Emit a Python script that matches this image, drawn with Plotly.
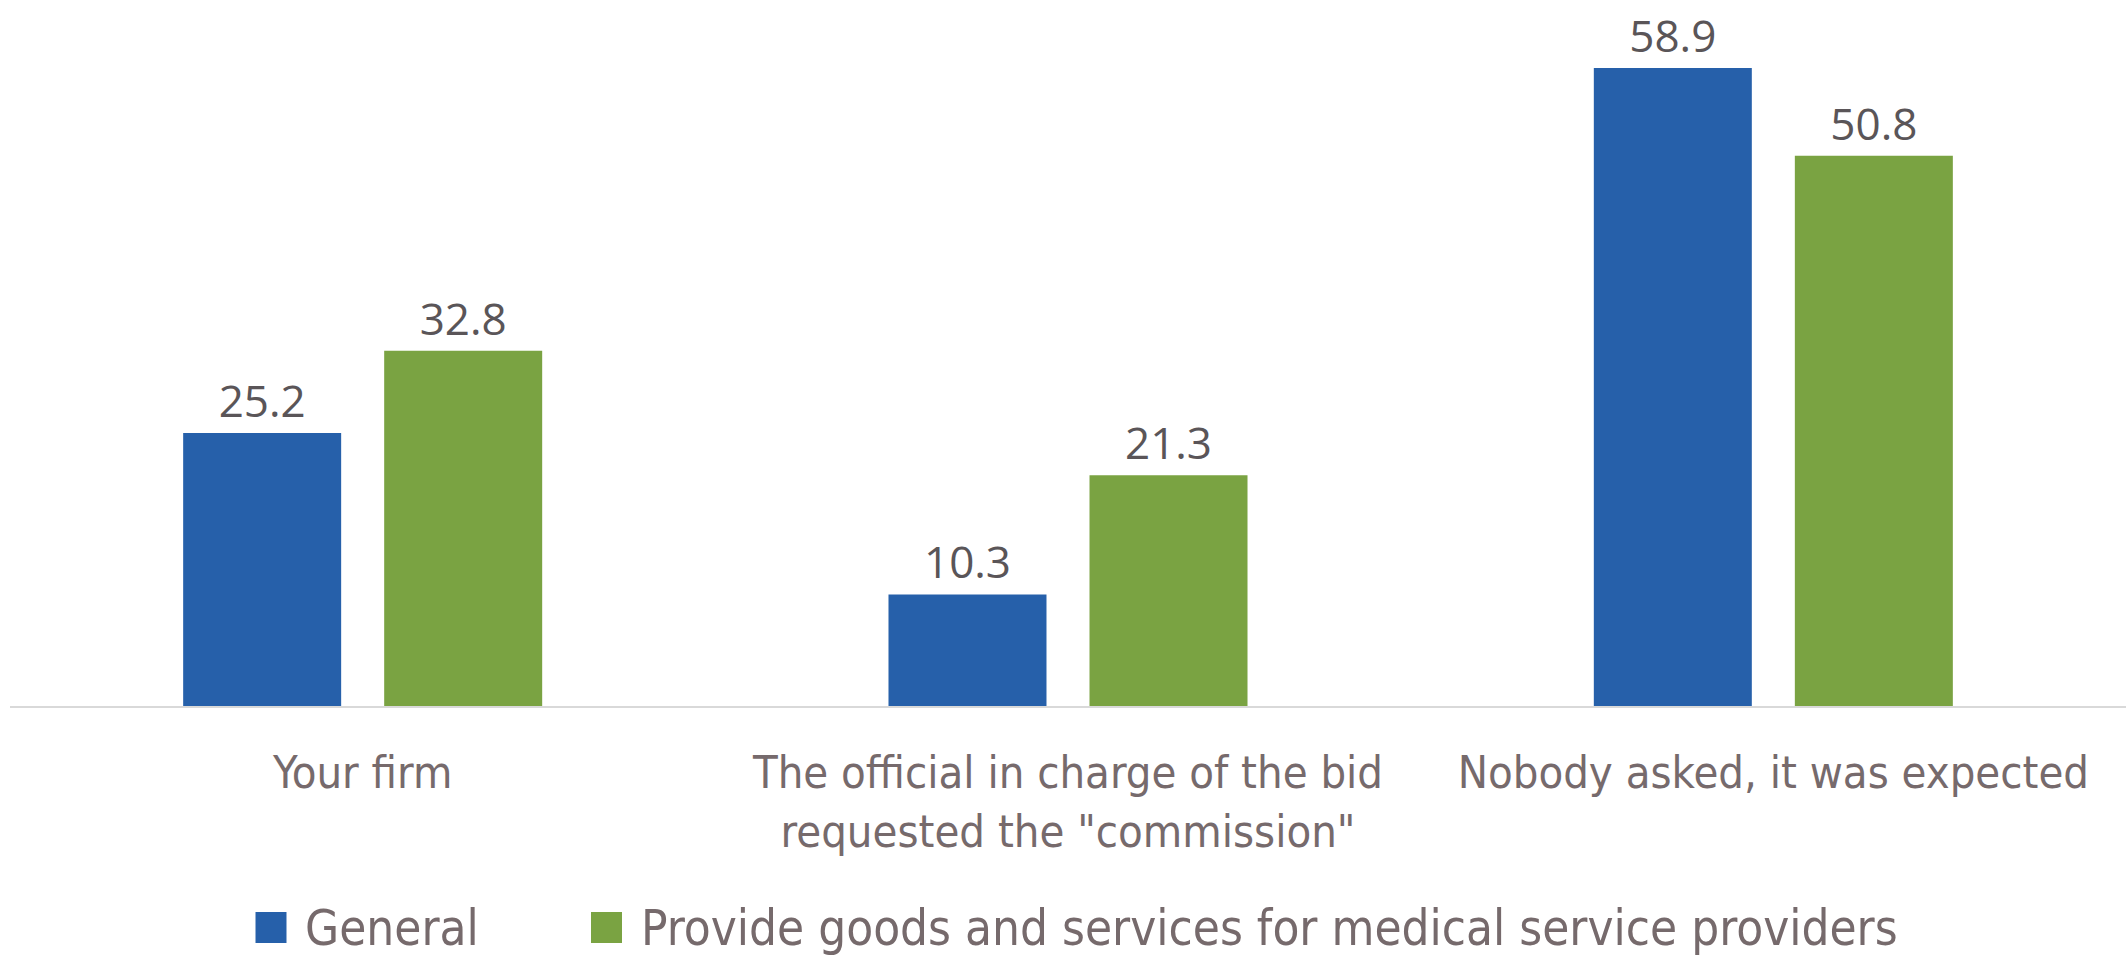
import plotly.graph_objects as go

# Categories and series values
categories = [
    "Your firm",
    "The official in charge of the bid<br>requested the \"commission\"",
    "Nobody asked, it was expected",
]
series_names = ["General", "Provide goods and services for medical service providers"]
general = [25.2, 10.3, 58.9]
medical = [32.8, 21.3, 50.8]
series_values = [general, medical]
series_colors = ["#2660AA", "#7AA342"]

W, H = 2126, 958
ML, MR, MT, MB = 10, 0, 10, 252
PW, PH = W - ML - MR, H - MT - MB

LABEL_FONT = "DejaVu Sans Condensed, Liberation Sans Narrow, DejaVu Sans, sans-serif"
VALUE_FONT = "Open Sans, Noto Sans, sans-serif"
TEXT_GREY = "#766A6C"
VALUE_GREY = "#5A5558"


def px_x(px):
    return (px - ML) / PW


def px_y(py):
    return (H - MB - py) / PH


fig = go.Figure()
for name, vals, color in zip(series_names, series_values, series_colors):
    fig.add_trace(go.Bar(
        name=name,
        x=categories,
        y=vals,
        marker=dict(color=color, line=dict(width=0)),
        texttemplate="%{y:.1f}",
        textposition="outside",
        textfont=dict(family=VALUE_FONT, size=44, color=VALUE_GREY),
        cliponaxis=False,
        showlegend=False,
        hoverinfo="skip",
    ))

# Custom legend: large square swatches followed by the series names
swatch_left = [255.5, 591]
text_left = [303, 639]
shapes = []
annotations = []
for name, color, sx, tx in zip(series_names, series_colors, swatch_left, text_left):
    shapes.append(dict(
        type="rect", xref="paper", yref="paper",
        x0=px_x(sx), x1=px_x(sx + 31), y0=px_y(943), y1=px_y(912),
        fillcolor=color, line=dict(width=0),
    ))
    annotations.append(dict(
        xref="paper", yref="paper", x=px_x(tx), y=px_y(929),
        xanchor="left", yanchor="middle", showarrow=False,
        text=name, font=dict(family=LABEL_FONT, size=49, color=TEXT_GREY),
    ))

fig.update_layout(
    width=W, height=H,
    margin=dict(l=ML, r=MR, t=MT, b=MB, pad=0),
    paper_bgcolor="white", plot_bgcolor="white",
    barmode="group", bargap=0.43, bargroupgap=0.214,
    shapes=shapes, annotations=annotations,
    showlegend=False,
)
fig.update_xaxes(
    showline=True, linecolor="#D9D9D9", linewidth=2,
    showgrid=False, zeroline=False, ticks="",
    tickfont=dict(family=LABEL_FONT, size=45, color=TEXT_GREY),
    ticklabelstandoff=26,
)
fig.update_yaxes(
    range=[0, PH / 10.83], visible=False, showgrid=False, zeroline=False,
)

fig.write_html("out.html")
